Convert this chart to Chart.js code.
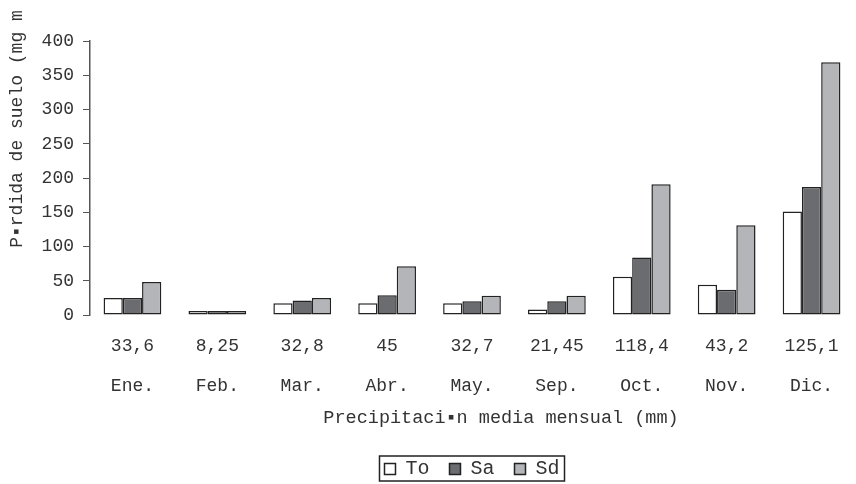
<!DOCTYPE html>
<html>
<head>
<meta charset="utf-8">
<script src="https://cdn.jsdelivr.net/npm/chart.js@4.4.0/dist/chart.umd.min.js"></script>
<style>
  html, body { margin: 0; padding: 0; background: #fff; }
  #wrap { width: 856px; height: 484px; }
</style>
</head>
<body>
<div id="wrap"><canvas id="perdidaChart" width="856" height="484"></canvas></div>
<script>
// datos
const meses = ['Ene.', 'Feb.', 'Mar.', 'Abr.', 'May.', 'Sep.', 'Oct.', 'Nov.', 'Dic.'];
const precipitacion = ['33,6', '8,25', '32,8', '45', '32,7', '21,45', '118,4', '43,2', '125,1'];
const serieTo = [25, 6, 17, 17, 17, 8, 56, 44, 151];
const serieSa = [25, 6, 21, 29, 20, 20, 84, 37, 187];
const serieSd = [48, 6, 25, 71, 28, 28, 191, 131, 369];
const ticksY = [0, 50, 100, 150, 200, 250, 300, 350, 400];

const fuente = '"Liberation Mono", "Courier New", monospace';
const colorTexto = '#333';

// títulos de ejes y recuadro de la leyenda
const extras = {
    id: 'extras',
    afterDraw(chart) {
        const ctx = chart.ctx;
        ctx.save();
        ctx.fillStyle = colorTexto;
        ctx.font = '18.5px ' + fuente;
        ctx.textAlign = 'center';
        ctx.textBaseline = 'middle';
        ctx.fillText('Precipitaci\u25AAn media mensual (mm)', 501, 418);

        ctx.font = '18px ' + fuente;
        ctx.translate(17, 129);
        ctx.rotate(-Math.PI / 2);
        ctx.fillText('P\u25AArdida de suelo (mg m', 0, 0);
        ctx.restore();

        const lg = chart.legend;
        if (lg && lg.legendHitBoxes && lg.legendHitBoxes.length) {
            const boxes = lg.legendHitBoxes;
            const l = Math.min(...boxes.map(b => b.left)) - 5;
            const r = Math.max(...boxes.map(b => b.left + b.width)) + 5;
            const cy = boxes[0].top + boxes[0].height / 2;
            ctx.save();
            ctx.strokeStyle = '#222';
            ctx.lineWidth = 1.5;
            ctx.strokeRect(l, cy - 13, r - l, 25);
            ctx.restore();
        }
    }
};

const ctx = document.getElementById('perdidaChart').getContext('2d');
new Chart(ctx, {
    type: 'bar',
    data: {
        labels: meses.map((m, i) => [precipitacion[i], m]),
        datasets: [{
            label: 'To',
            data: serieTo,
            backgroundColor: '#ffffff',
            borderColor: '#222',
            borderWidth: 1.5,
            borderSkipped: false
        }, {
            label: 'Sa',
            data: serieSa,
            backgroundColor: '#6b6c70',
            borderColor: '#222',
            borderWidth: 1.5,
            borderSkipped: false
        }, {
            label: 'Sd',
            data: serieSd,
            backgroundColor: '#b4b5b9',
            borderColor: '#222',
            borderWidth: 1.5,
            borderSkipped: false
        }]
    },
    options: {
        responsive: false,
        animation: false,
        layout: {
            padding: { top: 41, right: 2, left: 1, bottom: -5 }
        },
        datasets: {
            bar: {
                categoryPercentage: 0.68,
                barPercentage: 1.0
            }
        },
        plugins: {
            legend: {
                position: 'bottom',
                fullSize: false,
                labels: {
                    font: { family: fuente, size: 20 },
                    color: colorTexto,
                    boxWidth: 11,
                    boxHeight: 11,
                    padding: 20
                }
            },
            title: { display: false },
            tooltip: { enabled: false }
        },
        scales: {
            x: {
                grid: { display: false },
                border: { display: false },
                ticks: {
                    font: { family: fuente, size: 18, lineHeight: '40px' },
                    color: colorTexto,
                    padding: 3,
                    maxRotation: 0,
                    autoSkip: false
                },
                afterFit: s => { s.height = 124; }
            },
            y: {
                min: 0,
                max: 400,
                afterBuildTicks: s => { s.ticks = ticksY.map(v => ({ value: v })); },
                grid: {
                    drawOnChartArea: false,
                    drawTicks: true,
                    tickLength: 7,
                    color: '#555'
                },
                border: { display: true, color: '#555', width: 1.5 },
                ticks: {
                    font: { family: fuente, size: 18 },
                    color: colorTexto,
                    padding: 9
                },
                afterFit: s => { s.width = 89; }
            }
        }
    },
    plugins: [extras]
});
</script>
</body>
</html>
